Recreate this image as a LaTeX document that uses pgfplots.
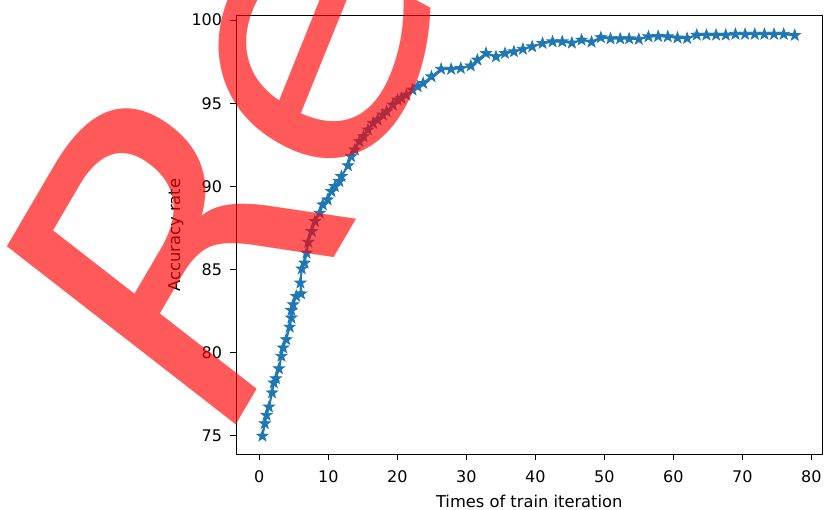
\documentclass[border=0pt]{standalone}
\usepackage{fontspec}
\setmainfont{DejaVu Sans}
\usepackage{pgfplots}
\usepackage{pgfplotstable}
\pgfplotsset{compat=1.18}
\definecolor{mplblue}{HTML}{1F77B4}
\pgfdeclareplotmark{fstar}{%
 \pgfpathmoveto{\pgfpointpolar{90}{\pgfplotmarksize}}%
 \pgfpathlineto{\pgfpointpolar{126}{0.4\pgfplotmarksize}}%
 \pgfpathlineto{\pgfpointpolar{162}{\pgfplotmarksize}}%
 \pgfpathlineto{\pgfpointpolar{198}{0.4\pgfplotmarksize}}%
 \pgfpathlineto{\pgfpointpolar{234}{\pgfplotmarksize}}%
 \pgfpathlineto{\pgfpointpolar{270}{0.4\pgfplotmarksize}}%
 \pgfpathlineto{\pgfpointpolar{306}{\pgfplotmarksize}}%
 \pgfpathlineto{\pgfpointpolar{342}{0.4\pgfplotmarksize}}%
 \pgfpathlineto{\pgfpointpolar{18}{\pgfplotmarksize}}%
 \pgfpathlineto{\pgfpointpolar{54}{0.4\pgfplotmarksize}}%
 \pgfpathclose
 \pgfusepathqfillstroke}
\pgfplotstableread{
x y
0.45 75.0
0.8 75.75
1.05 76.25
1.4 76.75
1.85 77.6
2.1 78.2
2.4 78.45
2.85 79.05
3.2 79.8
3.45 80.3
3.9 80.8
4.4 81.55
4.65 82.1
4.65 82.55
4.9 82.9
5.35 83.4
6.05 83.55
5.95 84.2
6.15 85.05
6.55 85.4
6.85 86.0
7.1 86.65
7.6 87.3
8.05 87.9
8.75 88.4
9.2 88.9
9.9 89.2
10.45 89.7
10.95 90.0
11.6 90.3
11.9 90.6
12.85 91.25
13.3 91.8
13.85 92.2
14.5 92.7
15.1 93.0
15.75 93.4
16.5 93.8
17.15 94.0
17.9 94.3
18.45 94.5
19.35 94.9
20.05 95.2
20.6 95.3
21.3 95.5
22.2 95.8
22.95 96.0
23.75 96.2
24.95 96.6
26.35 97.05
27.8 97.05
29.2 97.1
30.65 97.25
31.6 97.6
32.85 98.0
34.3 97.8
35.6 98.0
36.9 98.1
38.2 98.25
39.55 98.4
41.05 98.6
42.5 98.7
43.9 98.7
45.3 98.62
46.7 98.8
48.15 98.68
49.5 98.95
50.9 98.88
52.3 98.88
53.6 98.88
55.0 98.85
56.4 99.0
57.8 99.02
59.2 99.0
60.6 98.93
62.0 98.9
63.4 99.1
64.8 99.1
66.2 99.1
67.6 99.1
69.0 99.15
70.4 99.15
71.8 99.15
73.2 99.15
74.6 99.15
76.0 99.15
77.6 99.08
}\acc
\begin{document}
\begin{tikzpicture}
\path[use as bounding box] (0pt,0pt) rectangle (825pt,510pt);
\clip (0pt,0pt) rectangle (825pt,510pt);
\begin{axis}[
  at={(236pt,55.7pt)}, anchor=south west,
  scale only axis, width=586.5pt, height=438.6pt,
  xmin=-3.38, xmax=81.62, ymin=73.9, ymax=100.26,
  xtick={0,10,...,80}, ytick={75,80,...,100},
  tick pos=left, tick align=outside, major tick length=6pt,
  tick style={black, line width=1pt},
  axis line style={black, line width=1pt},
  ticklabel style={font=\fontsize{16}{19}\selectfont},
  /pgf/number format/assume math mode=true,
  xticklabel style={anchor=north, inner sep=0pt, yshift=-9.7pt},
  yticklabel style={anchor=east, inner sep=0pt, xshift=-7.7pt},
  every axis x label/.style={at={(axis description cs:0.5,0)}, anchor=center, yshift=-47pt},
  every axis y label/.style={at={(axis description cs:0,0.5)}, anchor=center, xshift=-60pt, rotate=90},
  label style={font=\fontsize{16.3}{19}\selectfont},
  xlabel={Times of train iteration},
  ylabel={Accuracy rate},
]
\addplot[mplblue, line width=2pt, mark=fstar, mark size=5.8pt, mark options={solid, fill=mplblue, draw=mplblue, line width=0.8pt}] table[x=x,y=y] {\acc};
\end{axis}
\node[xscale=0.867, rotate=56, text=red, opacity=0.65, inner sep=0pt, font=\fontsize{437}{437}\selectfont] at (175pt,264pt) {R};
\node[xscale=0.867, rotate=65, text=red, opacity=0.65, inner sep=0pt, font=\fontsize{405}{405}\selectfont] at (318pt,458pt) {e};
\end{tikzpicture}
\end{document}
